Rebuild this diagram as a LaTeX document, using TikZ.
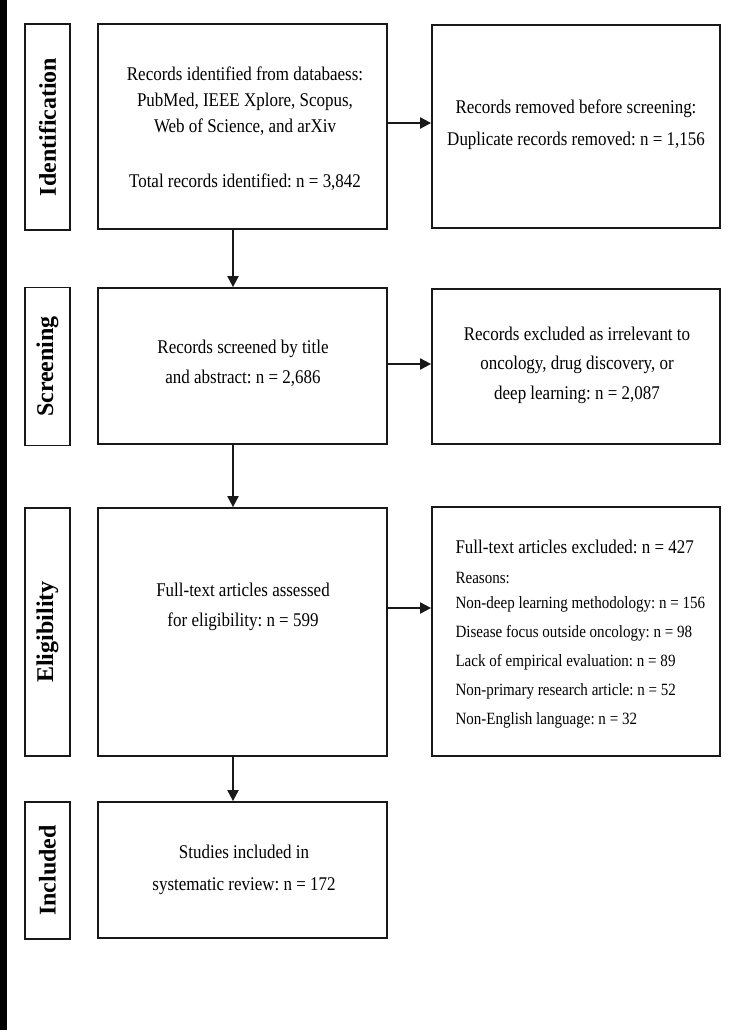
\documentclass[tikz,border=0pt]{standalone}
\usepackage{fontspec}
\setmainfont{Liberation Serif}[FakeStretch=0.875]
\newfontfamily\labelfont{Liberation Serif}
\usetikzlibrary{arrows.meta}
\frenchspacing
\tikzset{
  box/.style={draw=black!90, line width=1.8pt, inner sep=0pt, rectangle},
  phase/.style={box},
  phasetext/.style={rotate=90, font=\labelfont\fontsize{24}{28}\selectfont\bfseries},
  maintext/.style={align=center, font=\fontsize{19.4}{29.5}\selectfont},
  arr/.style={line width=2pt, draw=black!90, -{Triangle[length=11pt,width=11pt]}}
}
\begin{document}
\begin{tikzpicture}[x=1pt,y=-1pt]
\useasboundingbox (0,0) rectangle (736,1030);
\fill[white] (0,0) rectangle (736,1030);
\fill[black] (0,0) rectangle (7,1030);
% phase label boxes
\node[phase, minimum width=45pt, minimum height=206pt] (lab1) at (47.5,127) {};
\node[phase, minimum width=45pt, minimum height=158pt] (lab2) at (47.5,366.5) {};
\node[phase, minimum width=45pt, minimum height=248pt] (lab3) at (47.5,632) {};
\node[phase, minimum width=45pt, minimum height=137pt] (lab4) at (47.5,870.5) {};
\node[phasetext] (lab1t) at (lab1.center) {Identification};
\node[phasetext] (lab2t) at (lab2.center) {Screening};
\node[phasetext] (lab3t) at (lab3.center) {Eligibility};
\node[phasetext] (lab4t) at (lab4.center) {Included};
% main boxes
\node[box, minimum width=289pt, minimum height=205pt] (idm) at (242.5,126.5) {};
\node[box, minimum width=289pt, minimum height=156pt] (scm) at (242.5,366) {};
\node[box, minimum width=289pt, minimum height=248pt] (elm) at (242.5,632) {};
\node[box, minimum width=289pt, minimum height=136pt] (inm) at (242.5,870) {};
% right boxes
\node[box, minimum width=288pt, minimum height=203pt] (idr) at (576,126.5) {};
\node[box, minimum width=288pt, minimum height=155pt] (scr) at (576,366.5) {};
\node[box, minimum width=288pt, minimum height=249pt] (elr) at (576,631.5) {};
% texts
\node[maintext, font=\fontsize{19.4}{26}\selectfont] (idmt) at (245,128.5)
  {Records identified from databaess:\\PubMed, IEEE Xplore, Scopus,\\Web of Science, and arXiv\\[29pt]Total records identified: n = 3,842};
\node[maintext, font=\fontsize{19.4}{32}\selectfont] (idrt) at (576,125)
  {Records removed before screening:\\Duplicate records removed: n = 1,156};
\node[maintext] (scmt) at (243,363.5)
  {Records screened by title\\and abstract: n = 2,686};
\node[maintext] (scrt) at (577,365)
  {Records excluded as irrelevant to\\oncology, drug discovery, or\\deep learning: n = 2,087};
\node[maintext] (elmt) at (243,607)
  {Full-text articles assessed\\for eligibility: n = 599};
\node[align=left, anchor=west, font=\fontsize{17.2}{29}\selectfont] (elrt) at (452,634.5)
  {{\fontsize{19.4}{30}\selectfont Full-text articles excluded: n = 427}\\[1pt]
   Reasons:\\[-4pt]
   Non-deep learning methodology: n = 156\\
   Disease focus outside oncology: n = 98\\
   Lack of empirical evaluation: n = 89\\
   Non-primary research article: n = 52\\
   Non-English language: n = 32};
\node[maintext, font=\fontsize{19.4}{32}\selectfont] (inmt) at (244,870)
  {Studies included in\\systematic review: n = 172};
% arrows
\coordinate (ax) at (233,0);
\coordinate (ya) at (0,123);
\coordinate (yb) at (0,364);
\coordinate (yc) at (0,608);
\draw[arr] (idm.south -| ax) -- (scm.north -| ax);
\draw[arr] (scm.south -| ax) -- (elm.north -| ax);
\draw[arr] (elm.south -| ax) -- (inm.north -| ax);
\draw[arr] (idm.east |- ya) -- (idr.west |- ya);
\draw[arr] (scm.east |- yb) -- (scr.west |- yb);
\draw[arr] (elm.east |- yc) -- (elr.west |- yc);
\end{tikzpicture}
\end{document}
